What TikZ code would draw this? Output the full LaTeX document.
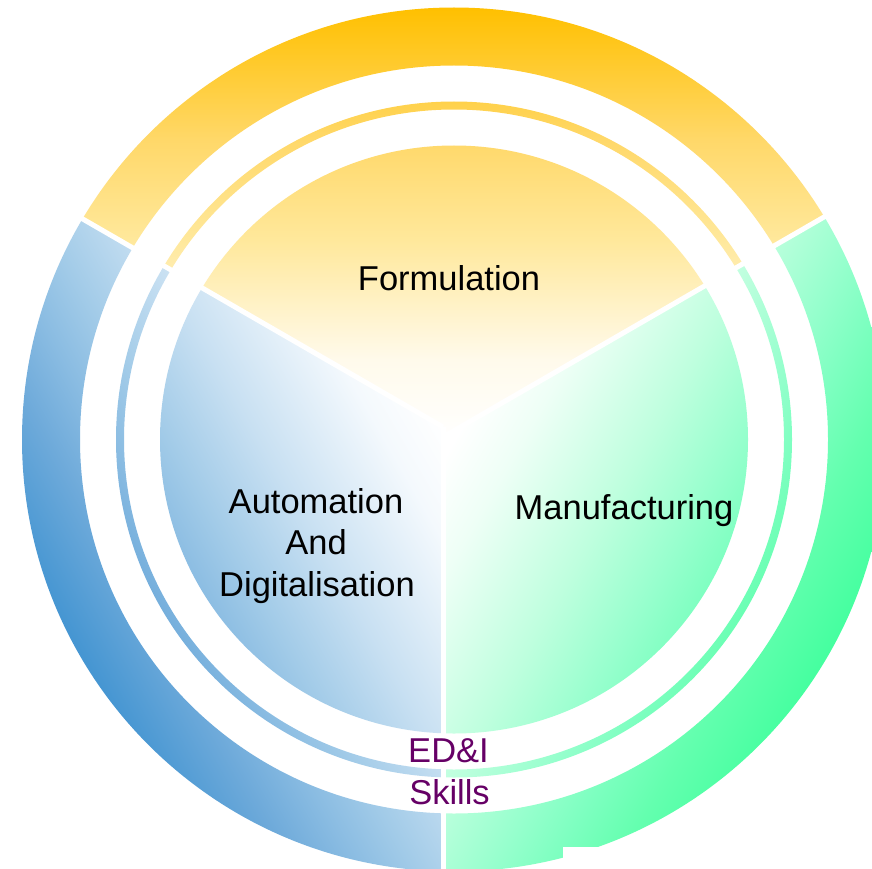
\documentclass[tikz,border=0pt]{standalone}
\usepackage{fontspec}
\setmainfont{Liberation Sans}
\definecolor{Y1}{RGB}{255,250,235}
\definecolor{Y2}{RGB}{255,232,155}
\definecolor{Y3}{RGB}{255,216,105}
\definecolor{Y4}{RGB}{255,192,0}
\definecolor{B1}{RGB}{244,249,253}
\definecolor{B2}{RGB}{200,224,242}
\definecolor{B3}{RGB}{162,203,232}
\definecolor{B4}{RGB}{138,188,226}
\definecolor{B5}{RGB}{110,170,218}
\definecolor{B6}{RGB}{70,150,210}
\definecolor{G1}{RGB}{238,255,246}
\definecolor{G2}{RGB}{190,255,222}
\definecolor{G3}{RGB}{150,255,205}
\definecolor{G4}{RGB}{125,255,192}
\definecolor{G5}{RGB}{100,255,175}
\definecolor{G6}{RGB}{70,255,160}
\definecolor{edipurple}{RGB}{102,0,102}
\pgfdeclareverticalshading{yelsh}{100bp}{color(0bp)=(white); color(50bp)=(white); color(54.63bp)=(Y1); color(61.57bp)=(Y2); color(67.36bp)=(Y3); color(75bp)=(Y4); color(100bp)=(Y4)}
\pgfdeclareverticalshading{blush}{100bp}{color(0bp)=(white); color(50bp)=(white); color(53.47bp)=(B1); color(59.84bp)=(B2); color(64.47bp)=(B3); color(67.36bp)=(B4); color(70.54bp)=(B5); color(75bp)=(B6); color(100bp)=(B6)}
\pgfdeclareverticalshading{grnsh}{100bp}{color(0bp)=(white); color(50bp)=(white); color(53.47bp)=(G1); color(59.84bp)=(G2); color(64.47bp)=(G3); color(67.36bp)=(G4); color(70.54bp)=(G5); color(75bp)=(G6); color(100bp)=(G6)}
\tikzset{
  lbl/.style={font=\fontsize{34.5}{41}\selectfont, inner sep=0pt, anchor=base},
  gapline/.style={draw=white, line width=5pt},
  rings/.style={even odd rule}
}
\newcommand{\ringpath}{(C) circle[radius=432] (C) circle[radius=374] (C) circle[radius=338] (C) circle[radius=330] (C) circle[radius=294]}
\begin{document}
\begin{tikzpicture}[x=1pt,y=1pt]
\useasboundingbox (0,-869) rectangle (872,0);
\fill[white] (0,-869) rectangle (872,0);
\coordinate (C) at (454,-439.5);
\coordinate (L0) at (443,-427);
\coordinate (Lfar) at (-76.6,-127);
\coordinate (R0) at (443,-437);
\coordinate (Rfar) at (962.6,-137);
\coordinate (Bfar) at (443,-1000);
% yellow sector
\begin{scope}
  \clip (L0) -- (Lfar) -- (-76.6,300) -- (962.6,300) -- (Rfar) -- (R0) -- cycle;
  \shade[shading=yelsh, rings] \ringpath;
\end{scope}
% blue sector
\begin{scope}
  \clip (L0) -- (Lfar) -- (-100,-1000) -- (Bfar) -- cycle;
  \shade[shading=blush, shading angle=120, rings] \ringpath;
\end{scope}
% green sector
\begin{scope}
  \clip (R0) -- (Rfar) -- (1000,-1000) -- (Bfar) -- cycle;
  \shade[shading=grnsh, shading angle=240, rings] \ringpath;
\end{scope}
% gaps
\draw[gapline] (L0) -- (Lfar);
\draw[gapline] (R0) -- (Rfar);
\draw[gapline] (L0) -- (Bfar);
\fill[white] (563,-869) rectangle (872,-847);
% labels
\node[lbl] (form) at (449,-290.5) {Formulation};
\node[lbl] (manu) at (624,-519.4) {Manufacturing};
\node[lbl] (auto1) at (316,-513.9) {Automation};
\node[lbl] (auto2) at (316,-554.4) {And};
\node[lbl] (auto3) at (317,-596) {Digitalisation};
\node[lbl, text=edipurple] (edi) at (448.5,-762) {ED\&I};
\node[lbl, text=edipurple] (skills) at (449.5,-804) {Skills};
\end{tikzpicture}
\end{document}
